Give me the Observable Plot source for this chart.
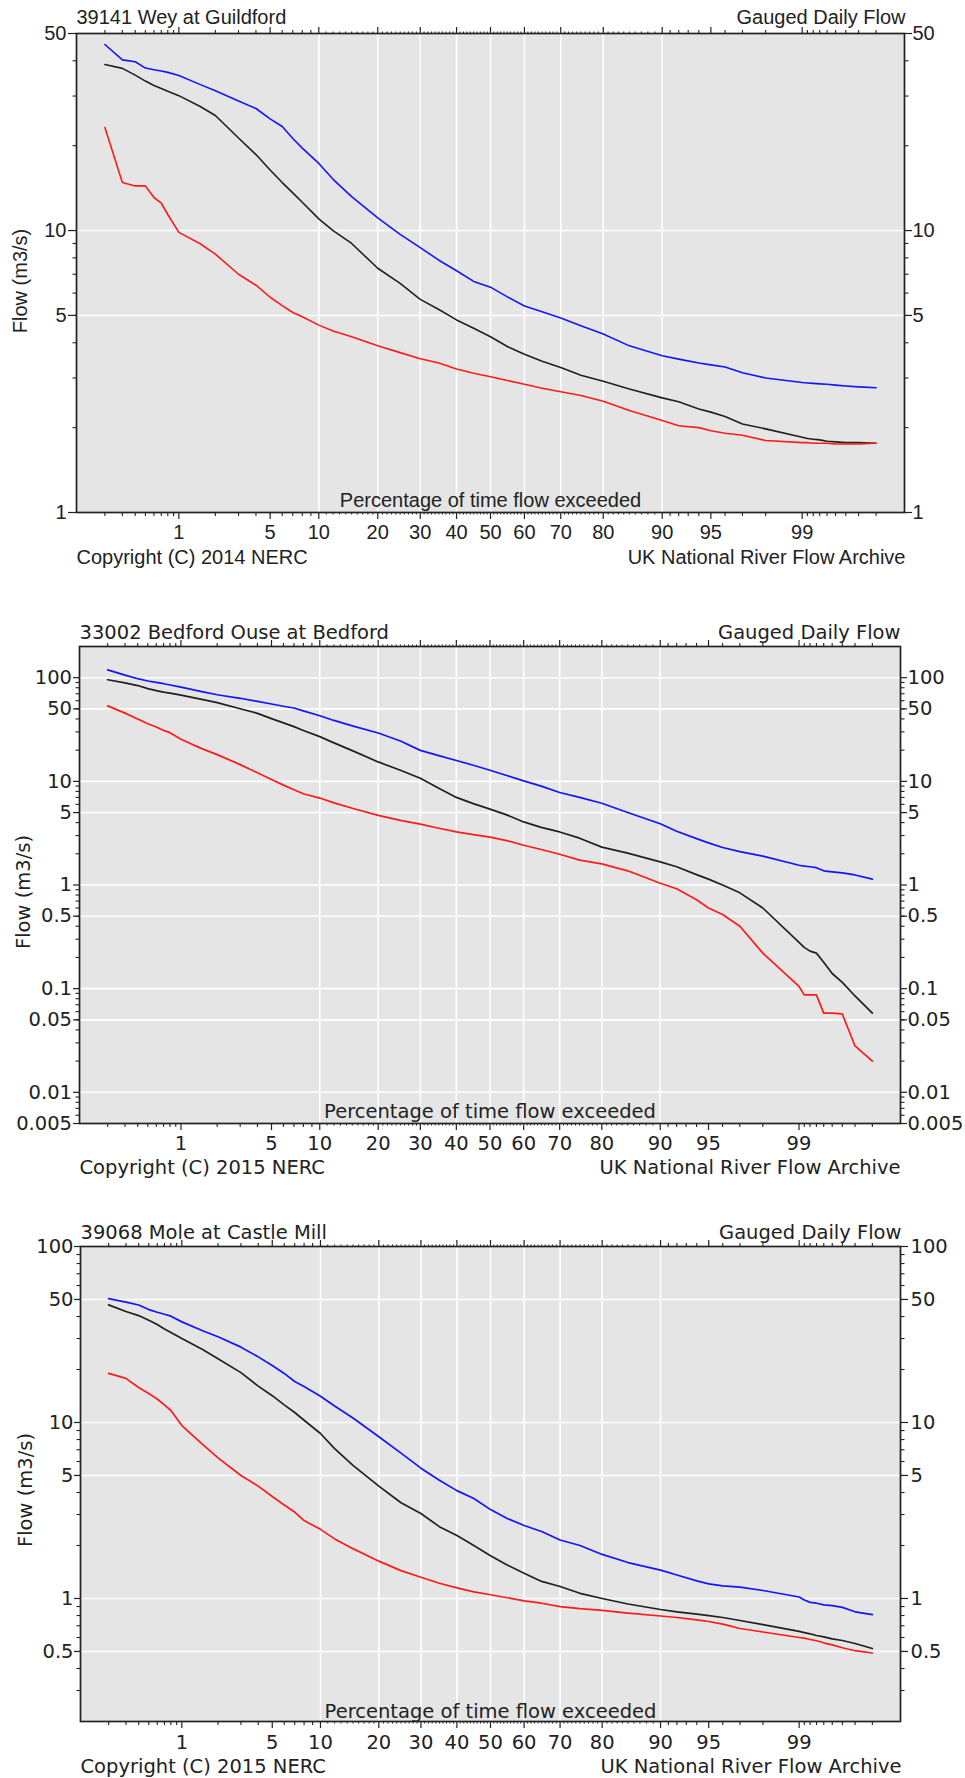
<!DOCTYPE html>
<html>
<head>
<meta charset="utf-8">
<script src="https://cdn.jsdelivr.net/npm/d3@7"></script>
<script src="https://cdn.jsdelivr.net/npm/@observablehq/plot@0.6"></script>
<style>
  body { margin: 0; background: #fff; }
  #charts { width: 965px; }
  #charts svg { display: block; }
</style>
</head>
<body>
<div id="charts"></div>
<script>
// ---- Data: percentage of time flow exceeded (shared x values) ----
const pct = [0.2,0.3,0.4,0.5,0.6,0.7,0.8,1,1.5,2,3,4,5,6,7,8,10,12,15,20,25,30,35,40,45,50,55,60,65,70,75,80,85,90,92,94,95,96,97,98,99,99.1,99.2,99.3,99.4,99.5,99.6,99.7,99.8];

// 39141 Wey at Guildford (m3/s)
const weyBlue  = [45.7,40.3,39.7,37.7,37.2,36.8,36.4,35.5,33.0,31.3,28.8,27.1,24.9,23.4,21.2,19.6,17.3,15.2,13.2,11.1,9.7,8.7,7.85,7.2,6.6,6.3,5.82,5.4,5.15,4.9,4.6,4.3,3.9,3.6,3.5,3.39,3.34,3.28,3.13,3.0,2.89,2.88,2.87,2.86,2.85,2.83,2.81,2.79,2.77];
const weyBlack = [38.8,37.6,35.6,33.9,32.7,31.9,31.2,30.1,27.6,25.6,21.3,18.6,16.4,14.8,13.6,12.6,11.0,10.0,9.0,7.35,6.5,5.7,5.25,4.82,4.5,4.2,3.88,3.64,3.44,3.27,3.07,2.92,2.74,2.55,2.47,2.33,2.27,2.19,2.06,1.98,1.85,1.83,1.82,1.81,1.79,1.78,1.77,1.77,1.76];
const weyRed   = [23.2,14.8,14.4,14.4,13.1,12.5,11.4,9.85,9.0,8.25,7.0,6.4,5.8,5.42,5.12,4.95,4.62,4.4,4.2,3.9,3.69,3.51,3.39,3.23,3.12,3.03,2.94,2.85,2.76,2.68,2.6,2.48,2.3,2.12,2.03,2.0,1.95,1.91,1.88,1.8,1.77,1.77,1.76,1.76,1.76,1.75,1.75,1.75,1.76];

// 33002 Bedford Ouse at Bedford (m3/s)
const bedBlue  = [119,106,97.8,93,90,87.5,85,81,73.5,68.5,63.3,59,55.8,53,51,47.8,43,38.7,34.3,29.3,24.5,19.9,17.7,15.9,14.3,12.8,11.4,10.1,9.0,7.8,7.0,6.15,5.0,3.9,3.3,2.8,2.55,2.3,2.1,1.9,1.55,1.52,1.5,1.47,1.37,1.34,1.31,1.25,1.14];
const bedBlack = [95.6,89,84,78.5,75,72.5,71,68,61.8,57.5,50.2,45.3,40.3,36.7,33.7,31,27,23.5,19.8,15.4,12.8,10.7,8.6,7.0,6.1,5.4,4.75,4.06,3.6,3.25,2.83,2.32,2.03,1.67,1.5,1.26,1.14,1.0,0.84,0.6,0.28,0.25,0.23,0.22,0.18,0.14,0.115,0.085,0.058];
const bedRed   = [53.5,45.5,40,36,33.5,31,29.5,25.5,20.7,18.1,14.5,12.1,10.4,9.2,8.3,7.6,6.9,6.2,5.5,4.7,4.2,3.87,3.53,3.26,3.06,2.9,2.68,2.42,2.2,1.98,1.74,1.6,1.37,1.04,0.92,0.72,0.6,0.52,0.4,0.22,0.105,0.087,0.087,0.087,0.058,0.058,0.057,0.028,0.02];

// 39068 Mole at Castle Mill (m3/s)
const moleBlue  = [50.6,48.3,46.5,43.8,42.3,41.2,40.2,37.3,33.2,30.7,26.8,23.6,21.1,19.0,17.1,16.0,14.1,12.4,10.6,8.3,6.7,5.5,4.7,4.1,3.7,3.2,2.85,2.6,2.4,2.15,2.0,1.78,1.6,1.45,1.36,1.26,1.21,1.18,1.16,1.11,1.02,0.98,0.95,0.94,0.92,0.91,0.89,0.84,0.81];
const moleBlack = [46.6,42.7,40.5,38.1,36,34,32.5,30,26,23,19.2,16.1,14.2,12.6,11.4,10.3,8.66,7.1,5.7,4.35,3.5,3.04,2.56,2.28,2.0,1.75,1.55,1.39,1.25,1.17,1.07,1.0,0.93,0.866,0.84,0.815,0.8,0.78,0.75,0.71,0.65,0.64,0.63,0.616,0.605,0.59,0.577,0.555,0.52];
const moleRed   = [19.0,17.8,15.8,14.6,13.6,12.6,11.7,9.6,7.5,6.3,5.0,4.35,3.8,3.4,3.1,2.77,2.47,2.18,1.92,1.63,1.44,1.32,1.22,1.15,1.09,1.05,1.01,0.97,0.94,0.90,0.875,0.855,0.825,0.795,0.78,0.755,0.74,0.715,0.675,0.645,0.6,0.595,0.585,0.575,0.56,0.545,0.525,0.505,0.49];

// ---- Tick values / labels ----
const xMajorTicks  = [1,5,10,20,30,40,50,60,70,80,90,95,99];
const xMajorLabels = ["1","5","10","20","30","40","50","60","70","80","90","95","99"];
const xGridTicks   = [10,20,30,40,50,60,70,80,90];
const xMediumTicks = [0.2,0.3,0.4,0.5,0.6,0.7,0.8,0.9,2,3,4,6,7,8,9,91,92,93,94,96,97,98,99.1,99.2,99.3,99.4,99.5,99.6,99.7,99.8];
const xSmallTicks = [];
for (let t = 10; t < 90; t += 10) for (let k = 1; k < 10; k++) xSmallTicks.push(t + k);

const weyYTicks  = [1,5,10,50],                             weyYLabels  = ["1","5","10","50"];
const bedYTicks  = [0.005,0.01,0.05,0.1,0.5,1,5,10,50,100], bedYLabels  = ["0.005","0.01","0.05","0.1","0.5","1","5","10","50","100"];
const moleYTicks = [0.5,1,5,10,50,100],                     moleYLabels = ["0.5","1","5","10","50","100"];

const colors = ["#1414ff", "#202020", "#ff1a1a"];

// inverse standard normal CDF (Acklam) -> probability axis
function probit(p) {
  const a=[-3.969683028665376e+01,2.209460984245205e+02,-2.759285104469687e+02,1.383577518672690e+02,-3.066479806614716e+01,2.506628277459239e+00];
  const b=[-5.447609879822406e+01,1.615858368580409e+02,-1.556989798598866e+02,6.680131188771972e+01,-1.328068155288572e+01];
  const c=[-7.784894002430293e-03,-3.223964580411365e-01,-2.400758277161838e+00,-2.549732539343734e+00,4.374664141464968e+00,2.938163982698783e+00];
  const d=[7.784695709041462e-03,3.224671290700398e-01,2.445134137142996e+00,3.754408661907416e+00];
  const pl = 0.02425, ph = 1 - pl;
  let q, r;
  if (p < pl) { q = Math.sqrt(-2*Math.log(p)); return (((((c[0]*q+c[1])*q+c[2])*q+c[3])*q+c[4])*q+c[5])/((((d[0]*q+d[1])*q+d[2])*q+d[3])*q+1); }
  if (p <= ph) { q = p - 0.5; r = q*q; return (((((a[0]*r+a[1])*r+a[2])*r+a[3])*r+a[4])*r+a[5])*q/(((((b[0]*r+b[1])*r+b[2])*r+b[3])*r+b[4])*r+1); }
  q = Math.sqrt(-2*Math.log(1-p)); return -(((((c[0]*q+c[1])*q+c[2])*q+c[3])*q+c[4])*q+c[5])/((((d[0]*q+d[1])*q+d[2])*q+d[3])*q+1);
}
const pz = p => probit(p / 100);   // probability-paper x
const lg = v => Math.log10(v);     // logarithmic y

function logMinor(lo, hi) {
  const out = [];
  for (let e = Math.floor(Math.log10(lo)) - 1; e <= Math.ceil(Math.log10(hi)); e++)
    for (let k = 2; k <= 9; k++) {
      const v = +(k * Math.pow(10, e)).toPrecision(6);
      if (v > lo && v < hi) out.push(v);
    }
  return out;
}

const panels = [
  { title: "39141 Wey at Guildford", copy: "Copyright (C) 2014 NERC",
    font: "'Liberation Sans', Arial, sans-serif", fs: 20,
    height: 590, mt: 33, mb: 78, ml: 76, mr: 61,
    yDomain: [1, 50], yTicks: weyYTicks, yLabels: weyYLabels, yGrid: [5, 10],
    series: [weyBlue, weyBlack, weyRed],
    titleDy: -10, xlabDy: -6, copyDy: 51, ylabDx: -56, ylabDy: 8, xPad: 5,
    lTick: 8, lPad: 2, rTick: 7, rPad: 1, rightDx: 1, sw: 1.6 },
  { title: "33002 Bedford Ouse at Bedford", copy: "Copyright (C) 2015 NERC",
    font: "'DejaVu Sans', sans-serif", fs: 19.5,
    height: 600, mt: 56, mb: 67, ml: 79, mr: 65,
    yDomain: [0.005, 200], yTicks: bedYTicks, yLabels: bedYLabels, yGrid: [0.01,0.05,0.1,0.5,1,5,10,50,100],
    series: [bedBlue, bedBlack, bedRed],
    titleDy: -8, xlabDy: -6, copyDy: 50, ylabDx: -56, ylabDy: 7, xPad: 5.2,
    lTick: 6, lPad: 1.5, rTick: 6, rPad: 1, rightDx: 0, sw: 1.7 },
  { title: "39068 Mole at Castle Mill", copy: "Copyright (C) 2015 NERC",
    font: "'DejaVu Sans', sans-serif", fs: 19.5,
    height: 588, mt: 56, mb: 57, ml: 80, mr: 65,
    yDomain: [0.2, 100], yTicks: moleYTicks, yLabels: moleYLabels, yGrid: [0.5,1,5,10,50],
    series: [moleBlue, moleBlack, moleRed],
    titleDy: -8, xlabDy: -4, copyDy: 51, ylabDx: -55, ylabDy: 6, xPad: 6.2,
    lTick: 6, lPad: 1, rTick: 7, rPad: 3, rightDx: 1, sw: 1.7 }
];

const container = document.getElementById("charts");
const ink = "#222";

for (const P of panels) {
  const yTickL = P.yTicks.map(lg);
  const yLab = new Map(yTickL.map((v, i) => [v, P.yLabels[i]]));
  const xMajZ = xMajorTicks.map(pz);
  const xLab = new Map(xMajZ.map((z, i) => [z, xMajorLabels[i]]));
  const minorY = logMinor(P.yDomain[0], P.yDomain[1]).map(lg);
  const blank = () => "";

  const lines = P.series.map((vals, s) =>
    Plot.line(pct.map((p, i) => ({z: pz(p), v: lg(vals[i])})),
      {x: "z", y: "v", stroke: colors[s], strokeWidth: P.sw, strokeLinejoin: "round"}));

  const chart = Plot.plot({
    width: 965, height: P.height,
    marginTop: P.mt, marginBottom: P.mb, marginLeft: P.ml, marginRight: P.mr,
    x: {type: "linear", domain: [pz(0.1), pz(99.9)], label: null},
    y: {type: "linear", domain: P.yDomain.map(lg), label: null},
    style: {fontFamily: P.font, fontSize: P.fs + "px", color: ink, background: "transparent", overflow: "visible"},
    marks: [
      Plot.frame({fill: "#e5e5e5", stroke: null}),
      Plot.gridX(xGridTicks.map(pz), {stroke: "#fff", strokeOpacity: 1, strokeWidth: 1.6}),
      Plot.gridY(P.yGrid.map(lg), {stroke: "#fff", strokeOpacity: 1, strokeWidth: 1.6}),
      ...lines,
      // bottom axis
      Plot.axisX(xMajZ, {anchor: "bottom", tickSize: 7, tickPadding: P.xPad, tickFormat: z => xLab.get(z), fontSize: P.fs, label: null, stroke: ink, strokeWidth: 1.2}),
      Plot.axisX(xMediumTicks.map(pz), {anchor: "bottom", tickSize: 4, tickFormat: blank, label: null, stroke: ink, strokeWidth: 1.1}),
      Plot.axisX(xSmallTicks.map(pz), {anchor: "bottom", tickSize: 2.5, tickFormat: blank, label: null, stroke: ink, strokeWidth: 1}),
      // top axis (ticks only)
      Plot.axisX(xMajZ, {anchor: "top", tickSize: 7, tickFormat: blank, label: null, stroke: ink, strokeWidth: 1.2}),
      Plot.axisX(xMediumTicks.map(pz), {anchor: "top", tickSize: 4, tickFormat: blank, label: null, stroke: ink, strokeWidth: 1.1}),
      Plot.axisX(xSmallTicks.map(pz), {anchor: "top", tickSize: 2.5, tickFormat: blank, label: null, stroke: ink, strokeWidth: 1}),
      // left axis
      Plot.axisY(yTickL, {anchor: "left", tickSize: P.lTick, tickPadding: P.lPad, tickFormat: v => yLab.get(v), fontSize: P.fs, label: null, stroke: ink, strokeWidth: 1.2}),
      Plot.axisY(minorY, {anchor: "left", tickSize: 3.5, tickFormat: blank, label: null, stroke: ink, strokeWidth: 1.1}),
      // right axis
      Plot.axisY(yTickL, {anchor: "right", tickSize: P.rTick, tickPadding: P.rPad, tickFormat: v => yLab.get(v), fontSize: P.fs, label: null, stroke: ink, strokeWidth: 1.2}),
      Plot.axisY(minorY, {anchor: "right", tickSize: 3.5, tickFormat: blank, label: null, stroke: ink, strokeWidth: 1.1}),
      Plot.frame({stroke: ink, strokeWidth: 1.7}),
      // texts
      Plot.text([P.title], {text: d => d, frameAnchor: "top-left", textAnchor: "start", lineAnchor: "bottom", dy: P.titleDy, fontSize: P.fs}),
      Plot.text(["Gauged Daily Flow"], {text: d => d, frameAnchor: "top-right", textAnchor: "end", lineAnchor: "bottom", dy: P.titleDy, dx: P.rightDx, fontSize: P.fs}),
      Plot.text(["Percentage of time flow exceeded"], {text: d => d, frameAnchor: "bottom", textAnchor: "middle", lineAnchor: "bottom", dy: P.xlabDy, fontSize: P.fs}),
      Plot.text([P.copy], {text: d => d, frameAnchor: "bottom-left", textAnchor: "start", lineAnchor: "bottom", dy: P.copyDy, fontSize: P.fs}),
      Plot.text(["UK National River Flow Archive"], {text: d => d, frameAnchor: "bottom-right", textAnchor: "end", lineAnchor: "bottom", dy: P.copyDy, dx: P.rightDx, fontSize: P.fs}),
      Plot.text(["Flow (m3/s)"], {text: d => d, frameAnchor: "left", rotate: -90, textAnchor: "middle", lineAnchor: "middle", dx: P.ylabDx, dy: P.ylabDy, fontSize: P.fs})
    ]
  });
  container.appendChild(chart);
}
</script>
</body>
</html>
